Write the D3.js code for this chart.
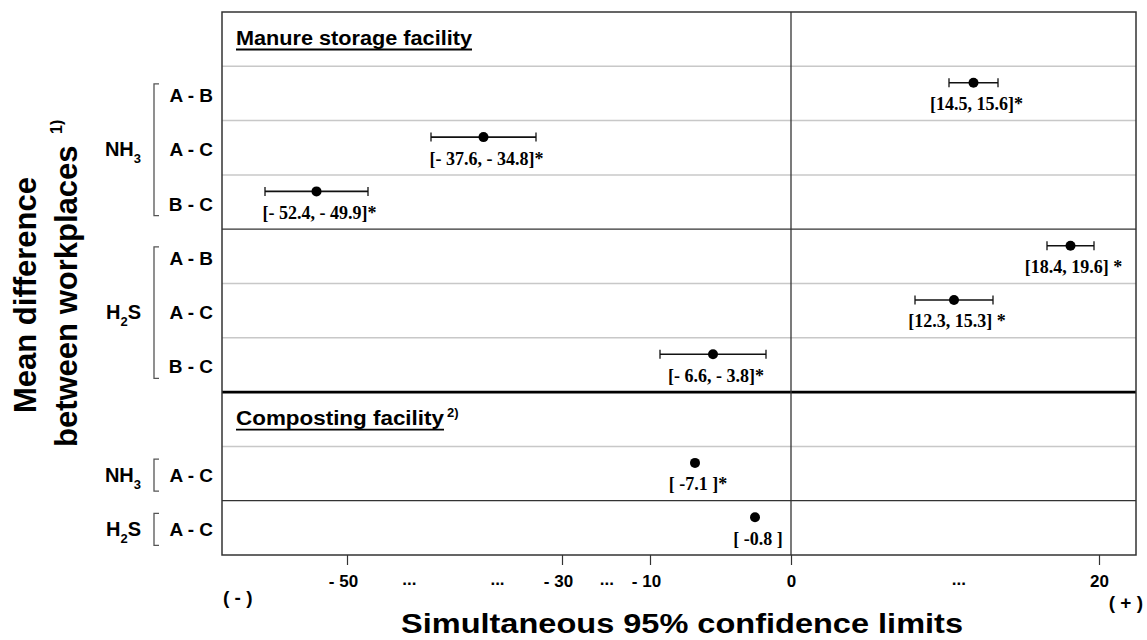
<!DOCTYPE html>
<html><head><meta charset="utf-8">
<script src="https://cdn.jsdelivr.net/npm/d3@7"></script>
<style>html,body{margin:0;padding:0;background:#fff}svg{display:block}</style>
</head><body><svg id="c" width="1147" height="640"></svg>
<script>
// ---------------- data ----------------
const facilities = ["Manure storage facility", "Composting facility"];
const facilityNotes = ["", "2)"];
const rowFacility = ["Manure storage facility","Manure storage facility","Manure storage facility",
                     "Manure storage facility","Manure storage facility","Manure storage facility",
                     "Composting facility","Composting facility"];
const rowGas   = ["NH3","NH3","NH3","H2S","H2S","H2S","NH3","H2S"];
const rowPair  = ["A - B","A - C","B - C","A - B","A - C","B - C","A - C","A - C"];
const lowerLimit = [14.5, -37.6, -52.4, 18.4, 12.3, -6.6, -7.1, -0.8];
const upperLimit = [15.6, -34.8, -49.9, 19.6, 15.3, -3.8, -7.1, -0.8];
const ciLabels = ["[14.5, 15.6]*","[- 37.6, - 34.8]*","[- 52.4, - 49.9]*","[18.4, 19.6] *",
                  "[12.3, 15.3] *","[- 6.6, - 3.8]*","[ -7.1 ]*","[ -0.8 ]"];
const tickValues = [-50, -30, -10, 0, 20];
const tickLabels = ["- 50", "- 30", "- 10", "0", "20"];
const axisBreaks = [[-50,-30,0.29],[-50,-30,0.70],[-30,-10,0.51],[0,20,0.545]];
const yTitle = ["Mean difference", "between workplaces"];
const yTitleNote = "1)";
const xTitle = "Simultaneous 95% confidence limits";

// ---------------- layout ----------------
const svg = d3.select("#c");
const P = {left:222, right:1136, top:12, bottom:555};
const sans = "'Liberation Sans', Arial, Helvetica, sans-serif";
const serif = "'Liberation Serif', 'Times New Roman', serif";

const rowKeys = [];
facilities.forEach(f => {
  rowKeys.push("hdr:" + f);
  rowFacility.forEach((rf, i) => { if (rf === f) rowKeys.push("row:" + i); });
});
const y = d3.scaleBand().domain(rowKeys).range([P.top, P.bottom]);
const bw = y.bandwidth();

// schematic (broken) x axis: piecewise linear scales
const xManure = d3.scaleLinear()
  .domain([-52.4, -50, -49.9, -37.6, -34.8, -30, -10, -6.6, -3.8, 0, 12.3, 14.5, 15.3, 15.6, 18.4, 19.6, 20])
  .range([265, 347, 368, 431, 536, 562, 650, 660, 766, 791, 915, 949, 993, 998, 1047, 1094, 1099]);
const xCompost = d3.scaleLinear()
  .domain([-50, -30, -10, -7.1, -0.8, 0, 20])
  .range([347, 562, 650, 695, 755, 791, 1099]);
const xFor = f => f === facilities[1] ? xCompost : xManure;

// ---------------- grid ----------------
const g = svg.append("g");
for (let k = 1; k < rowKeys.length; k++) {
  const yy = y(rowKeys[k]);
  const cur = rowKeys[k], prev = rowKeys[k-1];
  let stroke = "#c8c8c8", sw = 1.5;
  if (cur.startsWith("hdr:")) { stroke = "#000"; sw = 2.6; }
  else if (prev.startsWith("row:")) {
    const a = +prev.slice(4), b = +cur.slice(4);
    if (rowGas[a] !== rowGas[b]) { stroke = "#333"; sw = 1.3; }
  }
  g.append("line").attr("x1", P.left).attr("x2", P.right).attr("y1", yy).attr("y2", yy)
    .attr("stroke", stroke).attr("stroke-width", sw);
}
// zero line
g.append("line").attr("x1", xManure(0)).attr("x2", xManure(0)).attr("y1", P.top).attr("y2", P.bottom)
  .attr("stroke", "#333").attr("stroke-width", 1.3);
// frame
g.append("rect").attr("x", P.left).attr("y", P.top).attr("width", P.right - P.left).attr("height", P.bottom - P.top)
  .attr("fill", "none").attr("stroke", "#333").attr("stroke-width", 1.5);

// ---------------- facility headers ----------------
const hdrWidths = [236, 208];
facilities.forEach((f, i) => {
  const t = y("hdr:" + f);
  const bx = P.left + 14, by = t + 33;
  svg.append("text").attr("x", bx).attr("y", by).text(f)
    .attr("font-family", sans).attr("font-weight", "bold").attr("font-size", 20)
    .attr("textLength", hdrWidths[i]).attr("lengthAdjust", "spacingAndGlyphs");
  svg.append("line").attr("x1", bx).attr("x2", bx + hdrWidths[i]).attr("y1", by + 4.5).attr("y2", by + 4.5)
    .attr("stroke", "#000").attr("stroke-width", 1.8);
  if (facilityNotes[i]) {
    svg.append("text").attr("x", bx + hdrWidths[i] + 3).attr("y", by - 8).text(facilityNotes[i])
      .attr("font-family", sans).attr("font-weight", "bold").attr("font-size", 13);
  }
});

// ---------------- CI marks ----------------
const marks = svg.append("g");
lowerLimit.forEach((lo, i) => {
  const hi = upperLimit[i];
  const sx = xFor(rowFacility[i]);
  const t = y("row:" + i);
  const py = t + bw * 0.304;
  const x1 = sx(lo), x2 = sx(hi), cx = (x1 + x2) / 2;
  if (hi !== lo) {
    marks.append("line").attr("x1", x1).attr("x2", x2).attr("y1", py).attr("y2", py)
      .attr("stroke", "#111").attr("stroke-width", 1.6);
    [x1, x2].forEach(xx => marks.append("line").attr("x1", xx).attr("x2", xx)
      .attr("y1", py - 4.5).attr("y2", py + 4.5).attr("stroke", "#111").attr("stroke-width", 1.3));
  }
  marks.append("circle").attr("cx", cx).attr("cy", py).attr("r", 5).attr("fill", "#000");
  marks.append("text").attr("x", cx + 3).attr("y", t + bw * 0.81).text(ciLabels[i])
    .attr("text-anchor", "middle").attr("font-family", serif).attr("font-weight", "bold")
    .attr("font-size", 18);
});

// ---------------- row labels, gas labels, brackets ----------------
const labelCenter = i => y("row:" + i) + bw / 2 + 1.5;
rowPair.forEach((p, i) => {
  svg.append("text").attr("x", 213).attr("y", labelCenter(i) + 7).text(p)
    .attr("text-anchor", "end").attr("font-family", sans).attr("font-weight", "bold").attr("font-size", 19);
});
// groups of consecutive rows with same facility & gas
const groups = [];
rowGas.forEach((gas, i) => {
  const last = groups[groups.length - 1];
  if (last && last.gas === gas && last.fac === rowFacility[i]) last.rows.push(i);
  else groups.push({gas, fac: rowFacility[i], rows: [i]});
});
groups.forEach(gr => {
  const c0 = labelCenter(gr.rows[0]), c1 = labelCenter(gr.rows[gr.rows.length - 1]);
  const mid = (c0 + c1) / 2;
  const pad0 = gr.rows.length > 1 ? 11 : 16, pad1 = gr.rows.length > 1 ? 12 : 16;
  svg.append("path").attr("d", `M159,${c0 - pad0}H154V${c1 + pad1}H159`)
    .attr("fill", "none").attr("stroke", "#555").attr("stroke-width", 1.3);
  const tx = svg.append("text").attr("x", 141).attr("y", mid + 7).attr("text-anchor", "end")
    .attr("font-family", sans).attr("font-weight", "bold").attr("font-size", 20);
  if (gr.gas === "NH3") {
    tx.append("tspan").text("NH");
    tx.append("tspan").attr("font-size", 13).attr("dy", 7).text("3");
  } else {
    tx.append("tspan").text("H");
    tx.append("tspan").attr("font-size", 13).attr("dy", 7).text("2");
    tx.append("tspan").attr("dy", -7).text("S");
  }
});

// ---------------- x axis ----------------
const axis = d3.axisBottom(xManure).tickValues(tickValues)
  .tickFormat((d, i) => tickLabels[i]).tickSize(10).tickSizeOuter(0).tickPadding(10);
const ax = svg.append("g").attr("transform", `translate(0,${P.bottom})`).call(axis);
ax.select(".domain").remove();
ax.selectAll(".tick line").attr("stroke", "#333").attr("stroke-width", 1.2);
ax.selectAll(".tick text").attr("font-family", sans).attr("font-weight", "bold")
  .attr("font-size", 17).attr("fill", "#000").attr("dx", d => d < 0 ? -4 : 0);
axisBreaks.forEach(([a, b, t]) => {
  const xx = d3.interpolateNumber(xManure(a), xManure(b))(t);
  svg.append("text").attr("x", xx).attr("y", P.bottom + 30).text("...")
    .attr("text-anchor", "middle").attr("font-family", sans).attr("font-weight", "bold").attr("font-size", 17);
});
svg.append("text").attr("x", 223).attr("y", 604).text("( - )")
  .attr("font-family", sans).attr("font-weight", "bold").attr("font-size", 19);
svg.append("text").attr("x", 1143).attr("y", 609).text("( + )").attr("text-anchor", "end")
  .attr("font-family", sans).attr("font-weight", "bold").attr("font-size", 19);

// ---------------- titles ----------------
svg.append("text").attr("x", 401).attr("y", 633).text(xTitle)
  .attr("font-family", sans).attr("font-weight", "bold").attr("font-size", 28)
  .attr("textLength", 562).attr("lengthAdjust", "spacingAndGlyphs");
svg.append("text").attr("transform", "translate(36,413) rotate(-90)").text(yTitle[0])
  .attr("font-family", sans).attr("font-weight", "bold").attr("font-size", 31);
svg.append("text").attr("transform", "translate(77,447) rotate(-90)").text(yTitle[1])
  .attr("font-family", sans).attr("font-weight", "bold").attr("font-size", 31);
svg.append("text").attr("transform", "translate(62,134) rotate(-90)").text(yTitleNote)
  .attr("font-family", sans).attr("font-weight", "bold").attr("font-size", 16);
</script></body></html>
